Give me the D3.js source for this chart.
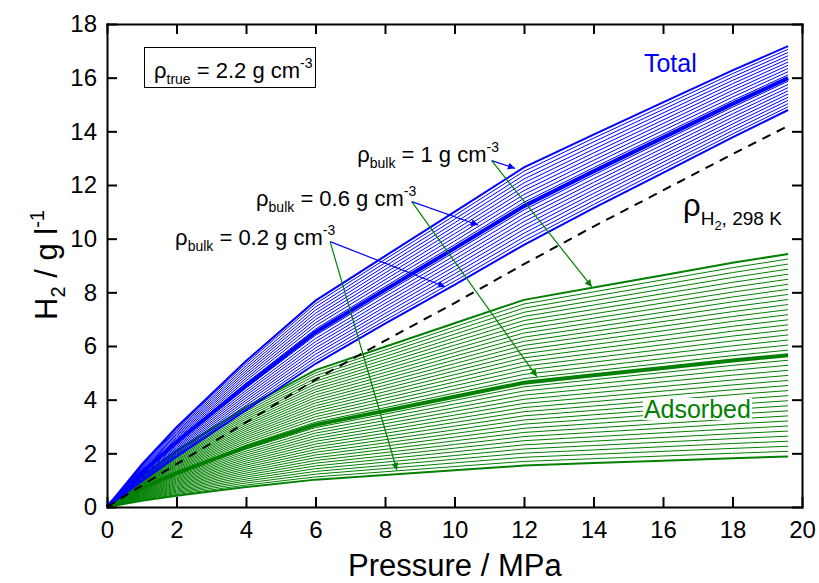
<!DOCTYPE html>
<html>
<head>
<meta charset="utf-8">
<script src="https://cdn.jsdelivr.net/npm/d3@7"></script>
<style>
    body { margin: 0; background: #fff; }
    svg text { font-family: "Liberation Sans", Arial, sans-serif; }
    .axis path, .axis line { stroke: #000; stroke-width: 2px; }
    .axis text { font-size: 24px; fill: #000; }
</style>
</head>
<body>
<div id="chart"></div>
<script>
    // values
    var pressure = [0, 1, 2, 4, 6, 8, 10, 12, 14, 16, 18, 19.6];
    // adsorbed H2 for rho_bulk = 1 g cm-3 (g l-1)
    var adsorbed = [0, 1.15, 2.1, 3.72, 5.1, 5.97, 6.85, 7.72, 8.18, 8.64, 9.1, 9.43];
    // gas density of H2 at 298 K (g l-1)
    var gasDensity = [0, 0.8, 1.6, 3.15, 4.75, 6.2, 7.6, 9.05, 10.45, 11.8, 13.15, 14.2];
    // green family: every 0.02 g cm-3
    var bulkAdsorbed = [0.20, 0.22, 0.24, 0.26, 0.28, 0.30, 0.32, 0.34, 0.36, 0.38,
        0.40, 0.42, 0.44, 0.46, 0.48, 0.50, 0.52, 0.54, 0.56, 0.58,
        0.60, 0.62, 0.64, 0.66, 0.68, 0.70, 0.72, 0.74, 0.76, 0.78,
        0.80, 0.82, 0.84, 0.86, 0.88, 0.90, 0.92, 0.94, 0.96, 0.98, 1.00];
    // blue family: every 0.04 g cm-3
    var bulkTotal = [0.20, 0.24, 0.28, 0.32, 0.36, 0.40, 0.44, 0.48, 0.52, 0.56,
        0.60, 0.64, 0.68, 0.72, 0.76, 0.80, 0.84, 0.88, 0.92, 0.96, 1.00];
    var trueDensity = 2.2;
    var boldBulk = 0.6;
    var xTicks = [0, 2, 4, 6, 8, 10, 12, 14, 16, 18, 20];
    var yTicks = [0, 2, 4, 6, 8, 10, 12, 14, 16, 18];

    // annotation arrows: label end -> band, in data units
    var arrows = [
        {label: "1", tx: 7.2, ty: 12.85, from: [11.07, 12.91], blue: [11.74, 12.62], green: [13.95, 8.21]},
        {label: "0.6", tx: 4.29, ty: 11.2, from: [8.77, 11.38], blue: [10.68, 10.51], green: [12.37, 4.86]},
        {label: "0.2", tx: 1.96, ty: 9.76, from: [6.42, 9.89], blue: [9.73, 8.21], green: [8.34, 1.38]}
    ];

    var blue = "#0000ff", green = "#008000";

    var margin = {top: 24, right: 17, bottom: 76, left: 107},
        width = 819 - margin.left - margin.right,
        height = 583 - margin.top - margin.bottom;

    var x = d3.scaleLinear().domain([0, 20]).range([0, width]);
    var y = d3.scaleLinear().domain([0, 18]).range([height, 0]);

    var svg = d3.select("#chart").append("svg")
        .attr("width", 819)
        .attr("height", 583)
        .append("g")
        .attr("transform", "translate(" + margin.left + "," + margin.top + ")");

    var defs = svg.append("defs");
    [["head-blue", blue], ["head-green", green]].forEach(function (m) {
        defs.append("marker")
            .attr("id", m[0])
            .attr("viewBox", "0 0 10 10")
            .attr("refX", 10).attr("refY", 5)
            .attr("markerUnits", "userSpaceOnUse")
            .attr("markerWidth", 10).attr("markerHeight", 7)
            .attr("orient", "auto")
            .append("path")
            .attr("d", "M0,0L10,5L0,10z")
            .attr("fill", m[1]);
    });

    var line = d3.line()
        .x(function (d) { return x(d[0]); })
        .y(function (d) { return y(d[1]); });

    function adsorbedLine(b) {
        return pressure.map(function (p, i) { return [p, b * adsorbed[i]]; });
    }

    function totalLine(b) {
        return pressure.map(function (p, i) {
            return [p, b * adsorbed[i] + (1 - b / trueDensity) * gasDensity[i]];
        });
    }

    function strokeW(b) {
        if (Math.abs(b - boldBulk) < 1e-6) return 4;
        if (b === 0.2 || b === 1) return 2;
        return 1;
    }

    svg.selectAll(".ads")
        .data(bulkAdsorbed)
        .enter().append("path")
        .attr("class", "ads")
        .attr("d", function (b) { return line(adsorbedLine(b)); })
        .attr("fill", "none")
        .attr("stroke", green)
        .attr("stroke-width", strokeW);

    svg.selectAll(".tot")
        .data(bulkTotal)
        .enter().append("path")
        .attr("class", "tot")
        .attr("d", function (b) { return line(totalLine(b)); })
        .attr("fill", "none")
        .attr("stroke", blue)
        .attr("stroke-width", strokeW);

    svg.append("path")
        .datum(pressure.map(function (p, i) { return [p, gasDensity[i]]; }))
        .attr("d", line)
        .attr("fill", "none")
        .attr("stroke", "#000")
        .attr("stroke-width", 2)
        .attr("stroke-dasharray", "9,7");

    // axes
    svg.append("g")
        .attr("class", "x axis")
        .attr("transform", "translate(0," + height + ")")
        .call(d3.axisBottom(x).tickValues(xTicks).tickSizeInner(-10).tickSizeOuter(0).tickPadding(14));
    svg.append("g")
        .attr("class", "x axis")
        .call(d3.axisTop(x).tickValues(xTicks).tickSizeInner(-10).tickSizeOuter(0).tickFormat(""));
    svg.append("g")
        .attr("class", "y axis")
        .call(d3.axisLeft(y).tickValues(yTicks).tickSizeInner(-10).tickSizeOuter(0).tickPadding(10));
    svg.append("g")
        .attr("class", "y axis")
        .attr("transform", "translate(" + width + ",0)")
        .call(d3.axisRight(y).tickValues(yTicks).tickSizeInner(-10).tickSizeOuter(0).tickFormat(""));
    svg.selectAll(".axis .domain").attr("stroke-linecap", "square");

    // axis titles
    svg.append("text")
        .attr("x", 348 - margin.left)
        .attr("y", 576 - margin.top)
        .style("font-size", "31px")
        .text("Pressure / MPa");

    var yt = svg.append("text")
        .attr("transform", "translate(" + (57 - margin.left) + "," + (265 - margin.top) + ") rotate(-90)")
        .attr("text-anchor", "middle")
        .style("font-size", "31px");
    yt.append("tspan").text("H");
    yt.append("tspan").attr("dy", 8).style("font-size", "20px").text("2");
    yt.append("tspan").attr("dy", -8).text(" / g l");
    yt.append("tspan").attr("dy", -13).style("font-size", "20px").text("-1");

    // rho_true box
    svg.append("rect")
        .attr("x", 144.5 - margin.left).attr("y", 47.5 - margin.top)
        .attr("width", 171).attr("height", 40)
        .attr("fill", "#fff").attr("stroke", "#000").attr("stroke-width", 1);
    var bt = svg.append("text")
        .attr("x", 154 - margin.left).attr("y", 78 - margin.top)
        .style("font-size", "22px");
    bt.append("tspan").text("ρ");
    bt.append("tspan").attr("dy", 6).style("font-size", "14px").text("true");
    bt.append("tspan").attr("dy", -6).text(" = 2.2 g cm");
    bt.append("tspan").attr("dy", -10).style("font-size", "14px").text("-3");

    // band labels
    svg.append("text")
        .attr("x", x(15.45)).attr("y", 72 - margin.top)
        .attr("fill", blue).style("font-size", "25px")
        .text("Total");

    var adsText = svg.append("text")
        .attr("x", x(15.45)).attr("y", 418 - margin.top)
        .attr("fill", green).style("font-size", "25px")
        .text("Adsorbed");
    var bb = adsText.node().getBBox();
    svg.insert("rect", function () { return adsText.node(); })
        .attr("x", bb.x - 1).attr("y", bb.y + 3)
        .attr("width", bb.width + 2).attr("height", bb.height - 6)
        .attr("fill", "#fff");

    var gt = svg.append("text")
        .attr("x", 683 - margin.left).attr("y", 216 - margin.top)
        .style("font-size", "31px");
    gt.append("tspan").text("ρ");
    gt.append("tspan").attr("dy", 9).style("font-size", "19px").text("H");
    gt.append("tspan").attr("dy", 5).style("font-size", "13px").text("2");
    gt.append("tspan").attr("dy", -5).style("font-size", "19px").text(", 298 K");

    // rho_bulk annotations
    arrows.forEach(function (a) {
        var t = svg.append("text")
            .attr("x", x(a.tx)).attr("y", y(a.ty))
            .style("font-size", "22px");
        t.append("tspan").text("ρ");
        t.append("tspan").attr("dy", 6).style("font-size", "14px").text("bulk");
        t.append("tspan").attr("dy", -6).text(" = " + a.label + " g cm");
        t.append("tspan").attr("dy", -10).style("font-size", "14px").text("-3");

        svg.append("line")
            .attr("x1", x(a.from[0])).attr("y1", y(a.from[1]))
            .attr("x2", x(a.blue[0])).attr("y2", y(a.blue[1]))
            .attr("stroke", blue).attr("stroke-width", 1.2)
            .attr("marker-end", "url(#head-blue)");
        svg.append("line")
            .attr("x1", x(a.from[0])).attr("y1", y(a.from[1]))
            .attr("x2", x(a.green[0])).attr("y2", y(a.green[1]))
            .attr("stroke", green).attr("stroke-width", 1.2)
            .attr("marker-end", "url(#head-green)");
    });
</script>
</body>
</html>
